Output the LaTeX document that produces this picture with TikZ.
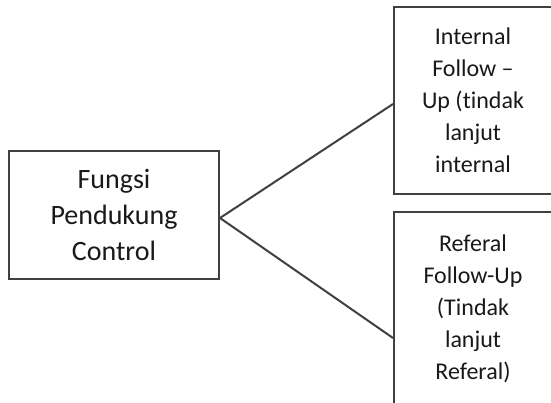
\documentclass[tikz,border=0pt]{standalone}
\usepackage{fontspec}
\setmainfont{Carlito}[Ligatures={NoCommon}]
\begin{document}
\begin{tikzpicture}[x=1pt,y=-1pt,
  framecol/.style={draw=black!75, line width=2pt},
  boxnode/.style={framecol, rectangle, inner sep=0pt, align=center, text=black!90},
  leftbox/.style={boxnode, minimum width=210pt, minimum height=128pt,
    font=\fontsize{28}{36}\selectfont},
  rightbox/.style={boxnode, minimum width=158pt,
    font=\fontsize{24}{32}\selectfont},
  link/.style={framecol}]
\useasboundingbox (0,0) rectangle (551,403);
\node[leftbox] (fpc) at (114,215) {Fungsi\\Pendukung\\Control};
\node[rightbox, minimum height=187pt] (ifu) at (473,100.5)
  {Internal\\Follow –\\Up (tindak\\lanjut\\internal};
\node[rightbox, minimum height=193pt] (rfu) at (473,308.5)
  {Referal\\Follow-Up\\(Tindak\\lanjut\\Referal)};
\coordinate (apex) at ([yshift=-3pt]fpc.east);
\draw[link] (apex) -- ([yshift=-3.5pt]ifu.west);
\draw[link] (apex) -- ([yshift=-29.5pt]rfu.west);
\end{tikzpicture}
\end{document}
